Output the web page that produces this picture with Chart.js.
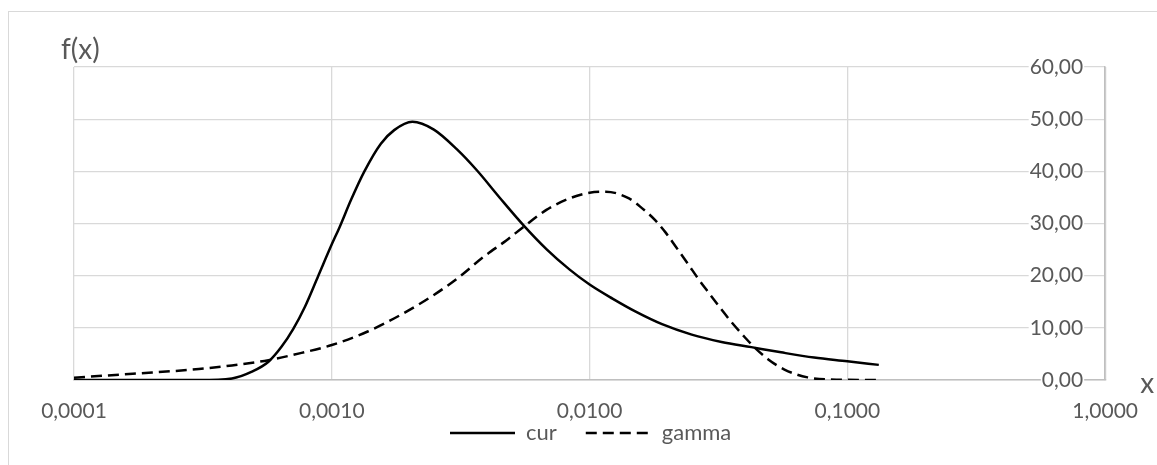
<!DOCTYPE html>
<html>
<head>
<meta charset="utf-8">
<script src="https://cdn.jsdelivr.net/npm/chart.js@4"></script>
<style>
  html, body { margin: 0; padding: 0; background: #fff; }
  #wrap { position: relative; width: 1157px; height: 465px; overflow: hidden; }
  #frame { position: absolute; left: 8px; top: 11px; width: 1160px; height: 470px; border: 1px solid #d9d9d9; box-sizing: border-box; }
  #chart { position: absolute; left: 0; top: 0; }
</style>
</head>
<body>
<div id="wrap">
  <div id="frame"></div>
  <canvas id="chart" width="1157" height="465"></canvas>
</div>
<script>
// tick labels
const xTicks = [0.0001, 0.001, 0.01, 0.1, 1];
const xTickLabels = ['0,0001', '0,0010', '0,0100', '0,1000', '1,0000'];
const yTicks = [0, 10, 20, 30, 40, 50, 60];

// cur (solid)
const curX = [0.0001, 0.000196, 0.000305, 0.00041, 0.00049, 0.000568, 0.000639, 0.000709, 0.000786,
  0.000885, 0.001, 0.001072, 0.001189, 0.001338, 0.00155, 0.001746, 0.002054, 0.002489, 0.00306,
  0.003653, 0.00449, 0.005556, 0.0068, 0.00835, 0.01, 0.01227, 0.0151, 0.0191, 0.0249, 0.0325,
  0.0424, 0.0553, 0.0743, 0.1, 0.1324];
const curY = [0, 0, 0, 0.3, 1.6, 3.5, 6.4, 9.8, 14.0,
  19.9, 26.0, 29.3, 34.6, 40.0, 45.3, 47.9, 49.5, 48.0, 44.2,
  40.2, 34.9, 29.6, 25.1, 21.2, 18.3, 15.6, 13.1, 10.7, 8.7, 7.3,
  6.3, 5.3, 4.3, 3.6, 2.9];

// gamma (dashed)
const gammaX = [0.0001, 0.000169, 0.000305, 0.00041, 0.000568, 0.000763, 0.001, 0.001378, 0.001852,
  0.002489, 0.00315, 0.003877, 0.004766, 0.005556, 0.0068, 0.00835, 0.01, 0.01156, 0.01422,
  0.016, 0.018, 0.0197, 0.0215, 0.0242, 0.0264, 0.0289, 0.0325, 0.0355, 0.04, 0.0437,
  0.0492, 0.057, 0.0701, 0.0942, 0.1324];
const gammaY = [0.45, 1.2, 2.1, 2.8, 3.8, 5.2, 6.7, 9.3, 12.5,
  16.3, 19.9, 23.6, 26.8, 29.4, 32.6, 34.8, 35.9, 36.1, 34.8,
  32.9, 30.6, 28.3, 25.7, 22.1, 19.4, 16.8, 13.5, 11.1, 8.2, 6.2,
  4.0, 2.0, 0.5, 0.05, 0];

const textColor = '#595959';
const fontFamily = 'Lato, "Open Sans", sans-serif';

// axis names: "f(x)" top-left and "x" at the end of the x axis
const axisNames = {
  id: 'axisNames',
  afterLayout(chart) {
    // legend sits just under the x tick labels, starting under 0,0010-0,0100
    const lg = chart.legend;
    const h = lg.height;
    lg.top = 393;
    lg.bottom = lg.top + h;
    lg.left = 421;
  },
  afterDraw(chart) {
    const ctx = chart.ctx;
    const area = chart.chartArea;
    ctx.save();
    ctx.fillStyle = textColor;
    ctx.font = '28px ' + fontFamily;
    ctx.textAlign = 'left';
    ctx.textBaseline = 'alphabetic';
    ctx.fillText('f(x)', area.left - 13, area.top - 8);
    ctx.fillText('x', area.right + 35, area.bottom + 13);
    ctx.restore();
  }
};

const ctx = document.getElementById('chart').getContext('2d');

new Chart(ctx, {
  type: 'line',
  data: {
    datasets: [{
      label: 'cur',
      data: curX.map((x, i) => ({ x: x, y: curY[i] })),
      borderColor: '#000',
      backgroundColor: '#000',
      borderWidth: 2.5,
      pointRadius: 0,
      fill: false,
      cubicInterpolationMode: 'monotone'
    }, {
      label: 'gamma',
      data: gammaX.map((x, i) => ({ x: x, y: gammaY[i] })),
      borderColor: '#000',
      backgroundColor: '#000',
      borderWidth: 2.5,
      borderDash: [11, 6],
      pointRadius: 0,
      fill: false,
      cubicInterpolationMode: 'monotone'
    }]
  },
  options: {
    responsive: false,
    animation: false,
    layout: { padding: { left: 74, top: 67, right: 0, bottom: -21 } },
    plugins: {
      legend: {
        position: 'bottom',
        align: 'start',
        labels: {
          boxWidth: 65,
          boxHeight: 0,
          padding: 29,
          color: textColor,
          font: { family: fontFamily, size: 22 }
        }
      },
      tooltip: { enabled: false }
    },
    scales: {
      x: {
        type: 'logarithmic',
        position: 'bottom',
        min: 0.0001,
        max: 1,
        afterBuildTicks: (scale) => { scale.ticks = xTicks.map(v => ({ value: v })); },
        afterFit: (scale) => { scale.height = 45; },
        grid: { color: '#d9d9d9', lineWidth: 1.3, drawTicks: false },
        border: { color: '#bfbfbf', width: 1.5 },
        ticks: {
          autoSkip: false,
          maxRotation: 0,
          padding: 19,
          color: textColor,
          font: { family: fontFamily, size: 21 },
          callback: (v, i) => xTickLabels[i]
        }
      },
      y: {
        type: 'linear',
        position: 'right',
        min: 0,
        max: 60,
        afterBuildTicks: (scale) => { scale.ticks = yTicks.map(v => ({ value: v })); },
        afterFit: (scale) => { scale.width = 44; },
        grid: { color: '#d9d9d9', lineWidth: 1.3, drawTicks: false },
        border: { color: '#bfbfbf', width: 1.5 },
        ticks: {
          mirror: true,
          padding: -22,
          color: textColor,
          font: { family: fontFamily, size: 21 },
          showLabelBackdrop: true,
          backdropColor: '#ffffff',
          backdropPadding: { left: 1, right: 1, top: 0, bottom: 0 },
          callback: (v) => v.toFixed(2).replace('.', ',')
        }
      }
    }
  },
  plugins: [axisNames]
});
</script>
</body>
</html>
